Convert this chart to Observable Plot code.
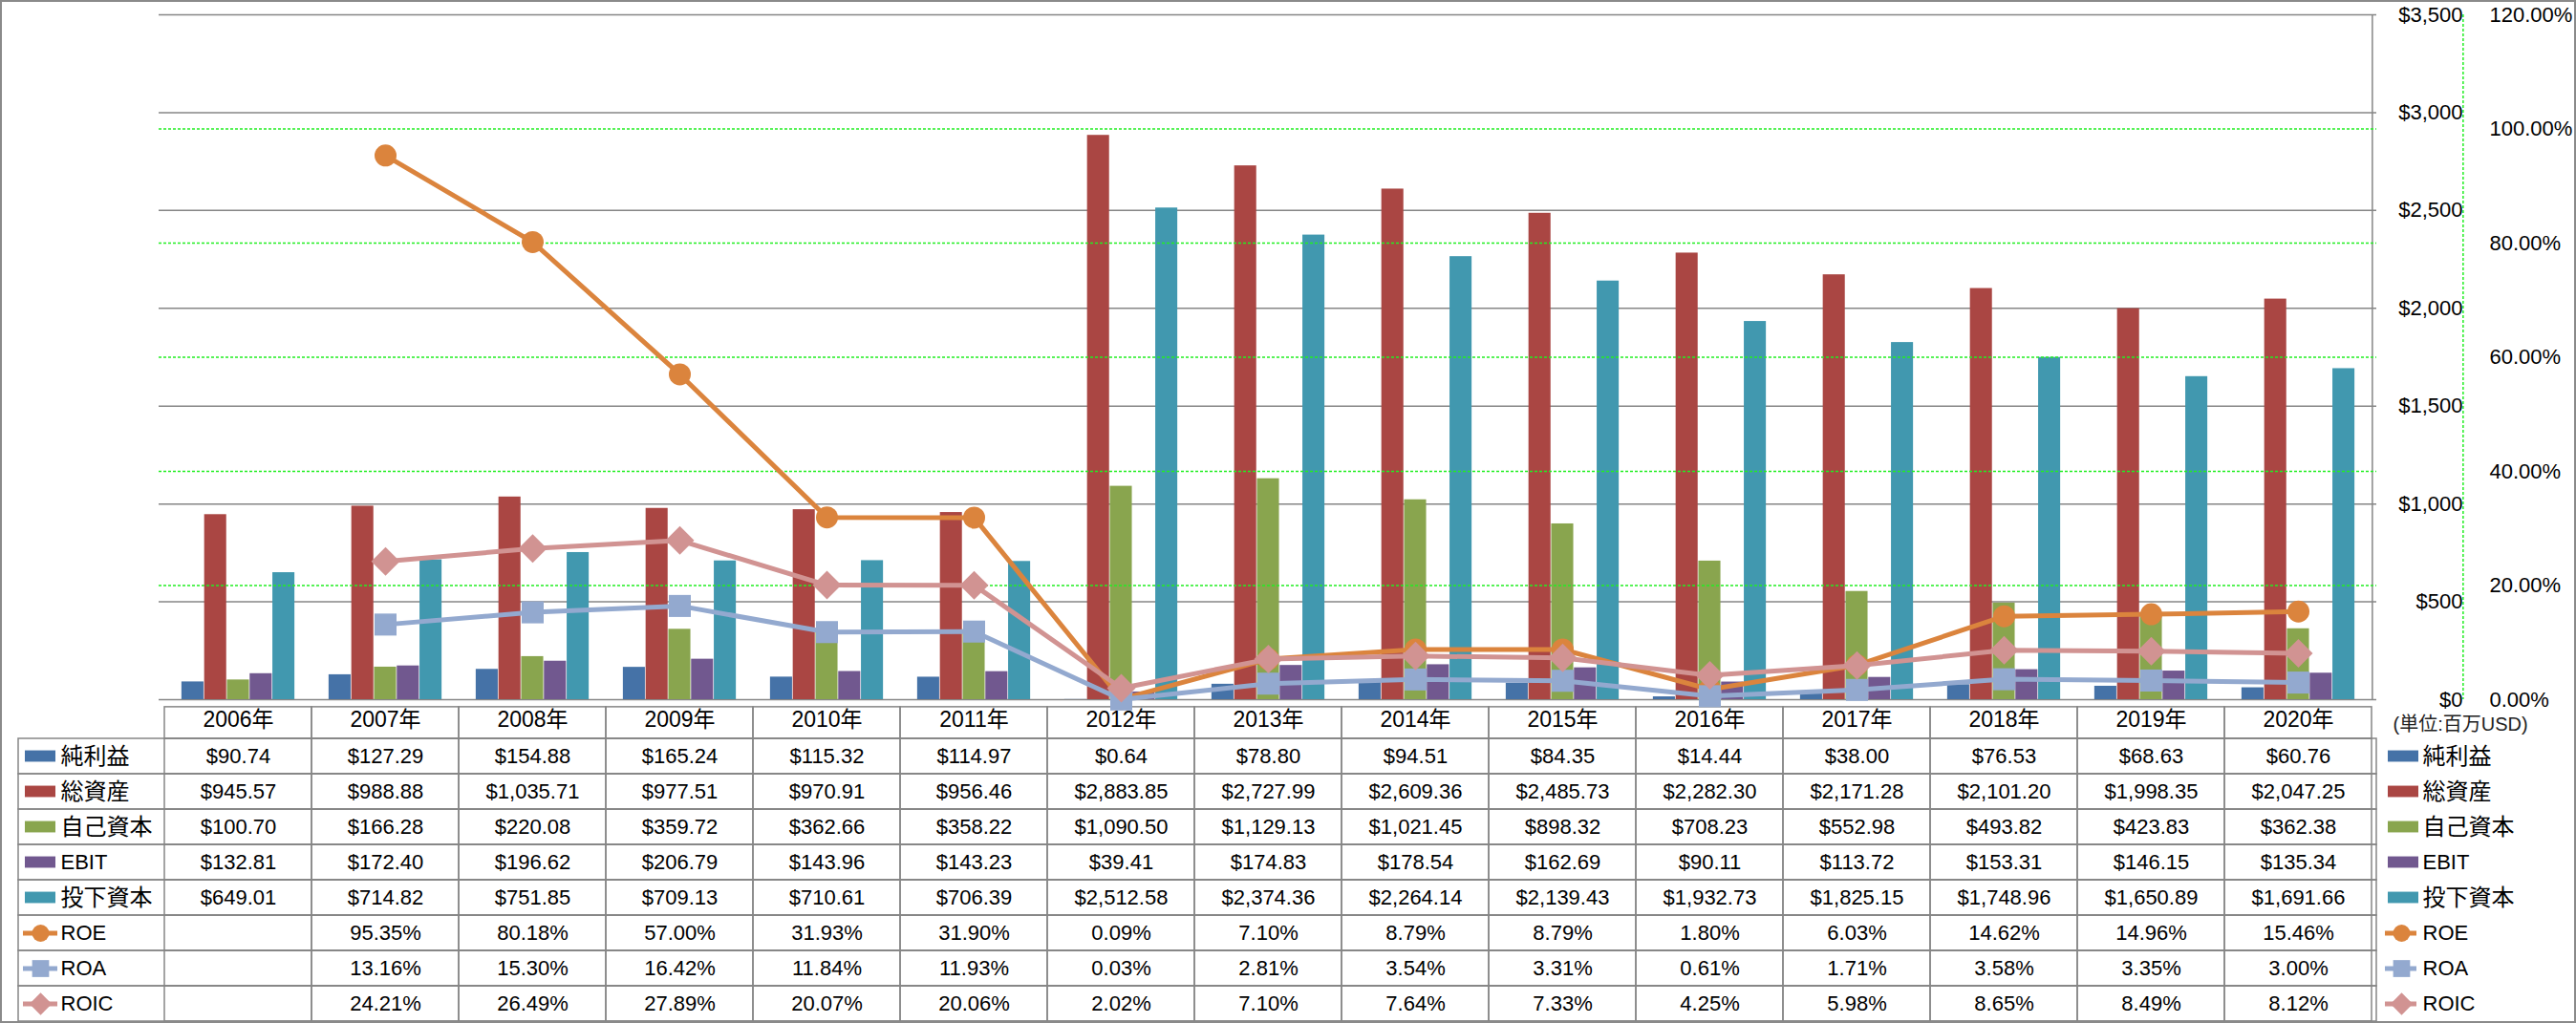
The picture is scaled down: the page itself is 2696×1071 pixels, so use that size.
<!DOCTYPE html>
<html><head><meta charset="utf-8">
<script src="https://cdn.jsdelivr.net/npm/d3@7"></script>
<script src="https://cdn.jsdelivr.net/npm/@observablehq/plot@0.6"></script>
<style>
html,body{margin:0;padding:0;background:#fff;}
#wrap{position:relative;width:2696px;height:1071px;overflow:hidden;background:#fff;}
#wrap svg{position:absolute;left:0;top:0;}
#border{position:absolute;left:0;top:0;width:2696px;height:1071px;box-sizing:border-box;border:2px solid #8a8a8a;pointer-events:none;}
</style></head>
<body><div id="wrap"><div id="border"></div></div>
<script>
// ---------- data ----------
const years = ["2006年","2007年","2008年","2009年","2010年","2011年","2012年","2013年","2014年","2015年","2016年","2017年","2018年","2019年","2020年"];
const netIncome   = [90.74,127.29,154.88,165.24,115.32,114.97,0.64,78.80,94.51,84.35,14.44,38.00,76.53,68.63,60.76];
const totalAssets = [945.57,988.88,1035.71,977.51,970.91,956.46,2883.85,2727.99,2609.36,2485.73,2282.30,2171.28,2101.20,1998.35,2047.25];
const equity      = [100.70,166.28,220.08,359.72,362.66,358.22,1090.50,1129.13,1021.45,898.32,708.23,552.98,493.82,423.83,362.38];
const ebit        = [132.81,172.40,196.62,206.79,143.96,143.23,39.41,174.83,178.54,162.69,90.11,113.72,153.31,146.15,135.34];
const investedCap = [649.01,714.82,751.85,709.13,710.61,706.39,2512.58,2374.36,2264.14,2139.43,1932.73,1825.15,1748.96,1650.89,1691.66];
const roe  = [null,95.35,80.18,57.00,31.93,31.90,0.09,7.10,8.79,8.79,1.80,6.03,14.62,14.96,15.46];
const roa  = [null,13.16,15.30,16.42,11.84,11.93,0.03,2.81,3.54,3.31,0.61,1.71,3.58,3.35,3.00];
const roic = [null,24.21,26.49,27.89,20.07,20.06,2.02,7.10,7.64,7.33,4.25,5.98,8.65,8.49,8.12];
const dollarTicks = [0,500,1000,1500,2000,2500,3000,3500];
const pctTicks = [0,20,40,60,80,100,120];
const unitLabel = "(単位:百万USD)";

const barSeries = [
  {name:"純利益", values:netIncome, color:"#4572A7"},
  {name:"総資産", values:totalAssets, color:"#AA4643"},
  {name:"自己資本", values:equity, color:"#89A54E"},
  {name:"EBIT", values:ebit, color:"#71588F"},
  {name:"投下資本", values:investedCap, color:"#4198AF"}
];
const lineSeries = [
  {name:"ROE", values:roe, color:"#DB843D", symbol:"circle", r:11.5, lr:9},
  {name:"ROA", values:roa, color:"#93A9CF", symbol:"square", r:13, lr:10},
  {name:"ROIC", values:roic, color:"#D19392", symbol:"diamond2", r:13.5, lr:10.5}
];
const rowNames = [...barSeries, ...lineSeries].map(s => s.name);

// ---------- layout ----------
const W = 2696, H = 1071;
const L = 166, R = 2487, TOP = 15, BASE = 732, BOT = 1070, TL = 19;
const colW = (R - L) / years.length;
const barW = 23.8, barOff = (colW - barW * barSeries.length) / 2;
const GRAY = "#868686", GREEN = "#22EE22";
const FONT = "'Liberation Sans','Noto Sans CJK JP',sans-serif";
const svgStyle = `background:transparent;max-width:none;overflow:visible;font-family:${FONT};`;
const fmtDollar = d3.format("$,.2f");
const fmtPct = v => v.toFixed(2) + "%";
const isCJK = s => /[^\x00-\x7F]/.test(s);

const wrap = document.getElementById("wrap");
const border = document.getElementById("border");

// ---------- bars layer ----------
const barMarks = [
  Plot.ruleY(dollarTicks, {y: d => d, stroke: GRAY, strokeWidth: 1.5}),
  ...barSeries.map((s, i) => Plot.barY(years.map((y, j) => ({year: y, value: s.values[j]})), {
    x: "year", y: "value", fill: s.color,
    insetLeft: barOff + barW * i, insetRight: colW - barOff - barW * (i + 1)
  })),
  Plot.ruleX([years[years.length - 1]], {x: d => d, dx: colW / 2, stroke: GRAY, strokeWidth: 1.5}),
  Plot.text(dollarTicks, {y: d => d, text: d3.format("$,"), frameAnchor: "right", dx: 90, textAnchor: "end", fontSize: 22, fill: "#000"})
];
const barsPlot = Plot.plot({
  width: W, height: H, marginLeft: L, marginRight: W - R, marginTop: TOP, marginBottom: H - BASE,
  x: {type: "band", domain: years, padding: 0, axis: null},
  y: {domain: [0, 3500], axis: null},
  style: svgStyle,
  marks: barMarks
});

// ---------- lines layer ----------
const lineMarks = [
  Plot.ruleY(pctTicks.filter(d => d > 0 && d < 120), {y: d => d, stroke: GREEN, strokeWidth: 1.5, strokeDasharray: "3,2"}),
  Plot.ruleX([years[years.length - 1]], {x: d => d, dx: colW / 2 + 95, stroke: GREEN, strokeWidth: 1.5, strokeDasharray: "3,2"}),
  Plot.text(pctTicks, {y: d => d, text: fmtPct, frameAnchor: "right", dx: 118, textAnchor: "start", fontSize: 22, fill: "#000"})
];
lineSeries.forEach(s => {
  const data = years.map((y, j) => ({year: y, value: s.values[j]}));
  lineMarks.push(Plot.line(data, {x: "year", y: "value", stroke: s.color, strokeWidth: 5}));
  lineMarks.push(Plot.dot(data.filter(d => d.value != null), {x: "year", y: "value", symbol: s.symbol, r: s.r, fill: s.color, stroke: "none"}));
});
const linesPlot = Plot.plot({
  width: W, height: H, marginLeft: L, marginRight: W - R, marginTop: TOP, marginBottom: H - BASE,
  x: {type: "band", domain: years, padding: 0, axis: null},
  y: {domain: [0, 120], axis: null},
  style: svgStyle,
  marks: lineMarks
});

// ---------- data table layer ----------
const rowH = (BOT - 773) / rowNames.length;
const cells = [];
barSeries.forEach(s => years.forEach((y, j) => cells.push({year: y, row: s.name, label: fmtDollar(s.values[j])})));
lineSeries.forEach(s => years.forEach((y, j) => cells.push({year: y, row: s.name, label: s.values[j] == null ? "" : fmtPct(s.values[j])})));

const tableMarks = [
  Plot.cell(rowNames, {y: d => d, fill: "none", stroke: GRAY, strokeWidth: 1.5}),
  Plot.cell(cells, {x: "year", y: "row", fill: "none", stroke: GRAY, strokeWidth: 1.5}),
  Plot.cell(years, {x: d => d, y: () => "hdr", fill: "none", stroke: GRAY, strokeWidth: 1.5, insetTop: 773 - rowH - BASE}),
  Plot.text(years, {x: d => d, y: () => "hdr", text: d => d, fontSize: 23, fill: "#000", dy: -1}),
  Plot.text(cells, {x: "year", y: "row", text: "label", fontSize: 22, fill: "#000"}),
  Plot.text(rowNames, {y: d => d, text: d => d, frameAnchor: "left", dx: 44, textAnchor: "start", fontSize: d => isCJK(d) ? 24 : 22, fill: "#000"}),
  Plot.text(rowNames, {y: d => d, text: d => d, frameAnchor: "right", dx: 48, textAnchor: "start", fontSize: d => isCJK(d) ? 24 : 22, fill: "#000"}),
  Plot.text([unitLabel], {y: () => "hdr", text: d => d, frameAnchor: "right", dx: 17, dy: 4, textAnchor: "start", fontSize: 20, fill: "#222"})
];
barSeries.forEach(s => {
  tableMarks.push(Plot.cell([s.name], {y: d => d, fill: s.color, insetLeft: 7, insetRight: R - 58, insetTop: (rowH - 12) / 2, insetBottom: (rowH - 12) / 2}));
  tableMarks.push(Plot.cell([s.name], {y: d => d, fill: s.color, insetLeft: 2499 - TL, insetRight: -(2531 - R), insetTop: (rowH - 12) / 2, insetBottom: (rowH - 12) / 2}));
});
lineSeries.forEach(s => {
  tableMarks.push(Plot.ruleY([s.name], {y: d => d, stroke: s.color, strokeWidth: 5, insetLeft: 24 - TL, insetRight: R - 60}));
  tableMarks.push(Plot.dot([s.name], {y: d => d, frameAnchor: "left", dx: 42 - TL, symbol: s.symbol, r: s.lr, fill: s.color}));
  tableMarks.push(Plot.ruleY([s.name], {y: d => d, stroke: s.color, strokeWidth: 5, insetLeft: 2496 - TL, insetRight: -(2529 - R)}));
  tableMarks.push(Plot.dot([s.name], {y: d => d, frameAnchor: "right", dx: 2513 - R, symbol: s.symbol, r: s.lr, fill: s.color}));
});
const tablePlot = Plot.plot({
  width: W, height: H, marginLeft: TL, marginRight: W - R, marginTop: BASE, marginBottom: H - BOT,
  x: {type: "band", domain: years, range: [L, R], padding: 0, axis: null},
  y: {type: "band", domain: ["hdr", ...rowNames], range: [773 - rowH, BOT], padding: 0, axis: null},
  style: svgStyle,
  marks: tableMarks
});

wrap.insertBefore(tablePlot, border);
wrap.insertBefore(barsPlot, border);
wrap.insertBefore(linesPlot, border);
</script>
</body></html>
